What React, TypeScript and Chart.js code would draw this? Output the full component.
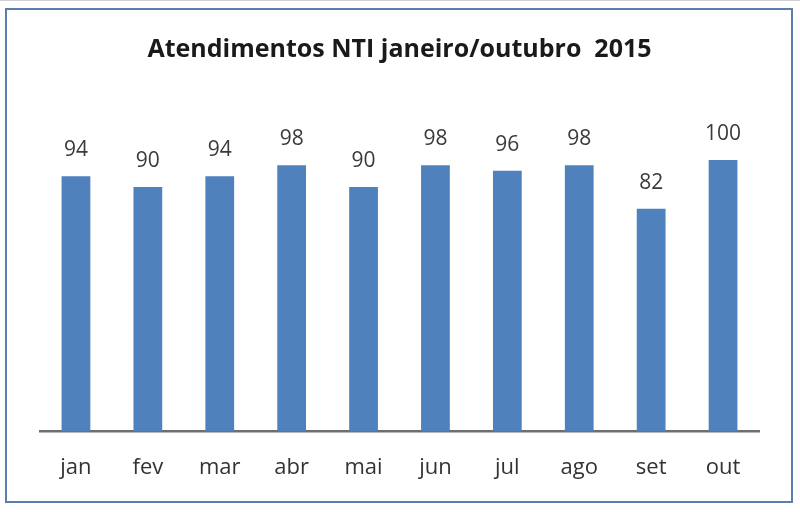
import React, { useEffect, useRef } from "react";
import { Chart, registerables } from "chart.js";

Chart.register(...registerables);

const months = ["jan", "fev", "mar", "abr", "mai", "jun", "jul", "ago", "set", "out"];
const atendimentos = [94, 90, 94, 98, 90, 98, 96, 98, 82, 100];
const chartTitle = "Atendimentos NTI janeiro/outubro  2015";

const FONT = "'Open Sans', Lato, sans-serif";

const valueLabels = {
  id: "valueLabels",
  afterDatasetsDraw(chart: any) {
    const { ctx } = chart;
    const meta = chart.getDatasetMeta(0);
    ctx.save();
    ctx.font = `21px ${FONT}`;
    ctx.fillStyle = "#3a3a3a";
    ctx.textAlign = "center";
    ctx.textBaseline = "middle";
    meta.data.forEach((bar: any, i: number) => {
      ctx.fillText(String(atendimentos[i]), bar.x, bar.y - 26);
    });
    ctx.restore();
  },
};

export default function App() {
  const ref = useRef<HTMLCanvasElement | null>(null);
  useEffect(() => {
    if (!ref.current) return;
    const chart = new Chart(ref.current, {
      type: "bar",
      data: {
        labels: months,
        datasets: [
          {
            data: atendimentos,
            backgroundColor: "#4f81bd",
            categoryPercentage: 1,
            barPercentage: 0.4,
          },
        ],
      },
      options: {
        animation: false,
        responsive: false,
        layout: { padding: { left: 40, right: 41, top: 0, bottom: 16 } },
        plugins: {
          legend: { display: false },
          tooltip: { enabled: false },
          title: {
            display: true,
            text: chartTitle,
            color: "#1a1a1a",
            font: { family: FONT, size: 25, weight: "bold", lineHeight: 1.2 },
            padding: { top: 35, bottom: 40.6 },
          },
        },
        scales: {
          x: {
            grid: { display: false },
            border: { display: true, color: "#6e6e6e", width: 2.5 },
            ticks: { color: "#333333", font: { family: FONT, size: 22 }, padding: 15 },
          },
          y: {
            display: false,
            min: 0,
            max: 120,
          },
        },
      },
      plugins: [valueLabels],
    });
    return () => chart.destroy();
  }, []);
  return (
    <div style={{ position: "fixed", left: 0, top: 0, width: 800, height: 512, background: "#fff" }}>
      <div
        style={{
          position: "absolute",
          left: 0,
          top: 0,
          width: 800,
          height: 1,
          background: "#d0d0d0",
        }}
      />
      <div
        style={{
          position: "absolute",
          left: 5,
          top: 8,
          width: 784,
          height: 491,
          border: "2px solid #5b7daf",
        }}
      />
      <canvas ref={ref} width={800} height={512} style={{ position: "absolute", left: 0, top: 0 }} />
    </div>
  );
}
